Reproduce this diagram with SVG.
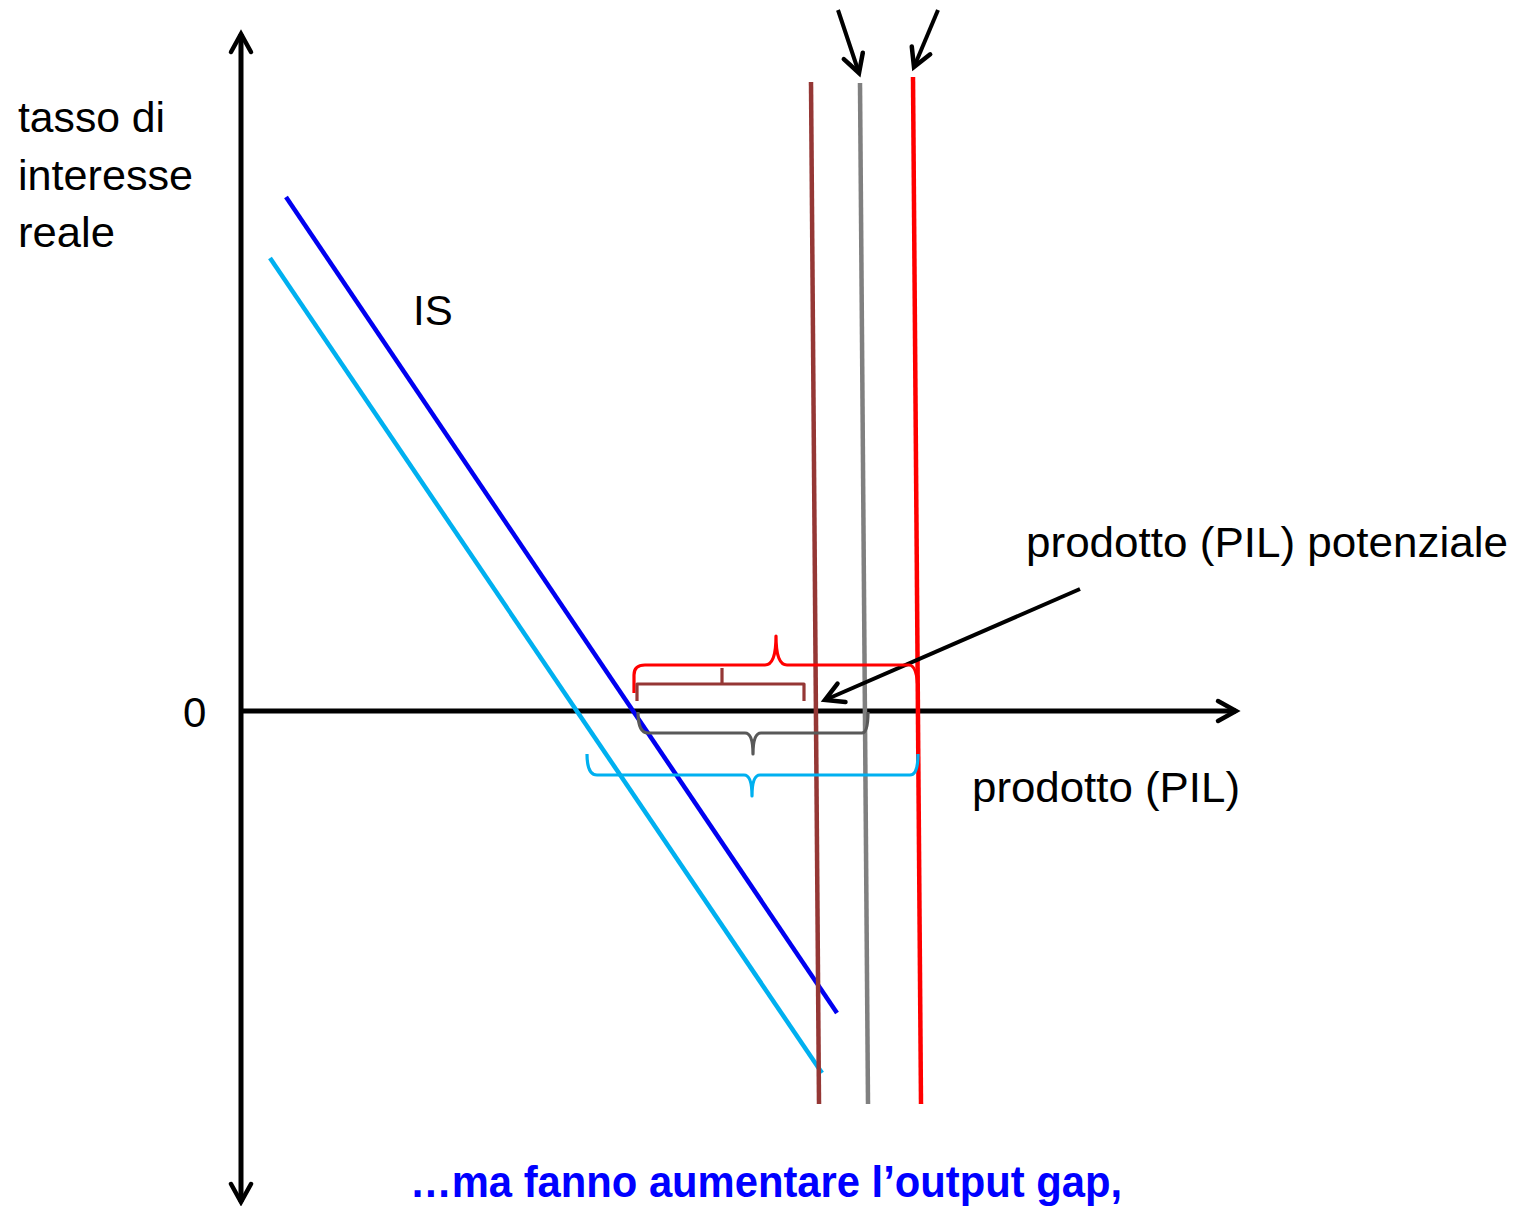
<svg xmlns="http://www.w3.org/2000/svg" width="1515" height="1206" viewBox="0 0 1515 1206">
<style>
text{font-family:"Liberation Sans",Arial,sans-serif;font-size:42px;fill:#000}
.ax{stroke:#000;stroke-width:5;fill:none}
.ptr{stroke:#000;stroke-width:4;fill:none}
.ln{stroke-width:4.5;fill:none}
.br{stroke-width:3.2;fill:none;stroke-linejoin:round}
</style>
<defs>
<marker id="ah" markerUnits="userSpaceOnUse" viewBox="0 0 24 24" markerWidth="24" markerHeight="24" refX="20" refY="12" orient="auto-start-reverse" overflow="visible">
<path d="M2,2 L20,12 L2,22" fill="none" stroke="#000" stroke-width="4.5" stroke-linecap="round" stroke-linejoin="miter"/>
</marker>
</defs>
<rect width="1515" height="1206" fill="#fff"/>
<g id="connectors">
<line class="ax" x1="241" y1="1202" x2="241" y2="34" marker-start="url(#ah)" marker-end="url(#ah)"/>
<line class="ax" x1="241" y1="711" x2="1236" y2="711" marker-end="url(#ah)"/>
<line class="ln" stroke="#0000F0" x1="286" y1="197" x2="837" y2="1013"/>
<line class="ln" stroke="#00B0F0" x1="270" y1="258" x2="822" y2="1073"/>
<line class="ln" stroke="#953735" x1="811" y1="82" x2="819" y2="1104"/>
<line class="ln" stroke="#808080" x1="860" y1="83" x2="868" y2="1104"/>
<line class="ln" stroke="#FF0000" stroke-width="5" x1="913" y1="77" x2="921" y2="1104"/>
<line class="ptr" x1="838" y1="10" x2="859" y2="73" marker-end="url(#ah)"/>
<line class="ptr" x1="938" y1="10" x2="914" y2="67" marker-end="url(#ah)"/>
<line class="ptr" x1="1080" y1="589" x2="825" y2="700" marker-end="url(#ah)"/>
</g>
<g id="braces">
<path class="br" stroke="#FF0000" d="M634,693 L634,675 Q634,665 645,665 L765,665 Q776,665 776,636 Q776,665 787,665 L909,665 Q917,665 918,690"/>
<path class="br" stroke="#953735" d="M637,701 L637,684 L804,684 L804,701 M722,684 L722,668"/>
<path class="br" stroke="#595959" d="M638,712 Q638,733 648,733 L745,733 Q753,733 753,754 Q753,733 761,733 L862,733 Q868,733 868,712"/>
<path class="br" stroke="#00B0F0" d="M587,754 Q587,775 597,775 L744,775 Q752,775 752,796 Q752,775 760,775 L910,775 Q918,775 918,754"/>
</g>
<g id="label-y"><text x="18" y="132" textLength="147" lengthAdjust="spacingAndGlyphs">tasso di</text><text x="18" y="190" textLength="175" lengthAdjust="spacingAndGlyphs">interesse</text><text x="18" y="247" textLength="97" lengthAdjust="spacingAndGlyphs">reale</text></g>
<g id="label-is"><text x="413" y="325">IS</text></g>
<g id="label-zero"><text x="183" y="727">0</text></g>
<g id="label-potenziale"><text x="1026" y="557" textLength="482" lengthAdjust="spacingAndGlyphs">prodotto (PIL) potenziale</text></g>
<g id="label-x"><text x="972" y="802" textLength="268" lengthAdjust="spacingAndGlyphs">prodotto (PIL)</text></g>
<g id="caption"><text x="410" y="1197" style="font-weight:bold;fill:#0000FF;font-size:45px" textLength="712" lengthAdjust="spacingAndGlyphs">…ma fanno aumentare l’output gap,</text></g>
</svg>
